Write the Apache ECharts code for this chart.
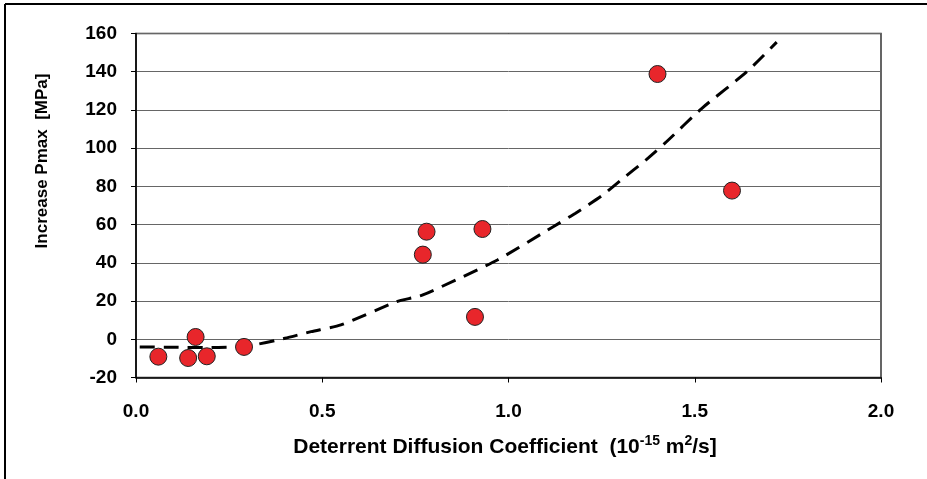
<!DOCTYPE html>
<html>
<head>
<meta charset="utf-8">
<script src="https://cdn.jsdelivr.net/npm/echarts@6/dist/echarts.min.js"></script>
<style>
html,body{margin:0;padding:0;background:#fff;}
#chart{width:927px;height:479px;}
</style>
</head>
<body>
<div id="chart"></div>
<script>
// Measured points: diffusion coefficient (1e-15 m2/s) vs increase Pmax (MPa)
const pointX = [0.06, 0.14, 0.16, 0.19, 0.29, 0.77, 0.78, 0.91, 0.93, 1.40, 1.60];
const pointY = [-9.1, -9.8, 1.2, -8.9, -4.0, 44.3, 56.3, 11.7, 57.7, 138.8, 77.8];
// Trend line (dashed)
const trendX = [0.01, 0.10, 0.20, 0.30, 0.40, 0.47, 0.55, 0.70, 0.77, 0.97, 1.12, 1.18, 1.25, 1.30, 1.37, 1.42, 1.52, 1.64, 1.72];
const trendY = [-4.0, -4.2, -4.3, -3.5, 0.5, 4.0, 7.5, 19.7, 23.2, 41.5, 58.9, 66.0, 75.0, 83.0, 94.0, 102.6, 121.0, 140.0, 155.5];
const yTitle = 'Increase Pmax  [MPa]';
const xTitleMain = 'Deterrent Diffusion Coefficient  (10';

const chart = echarts.init(document.getElementById('chart'), null, {renderer: 'canvas'});
const FONT = '"Liberation Sans", Arial, sans-serif';

chart.setOption({
  animation: false,
  backgroundColor: '#fff',
  grid: {left: 136, top: 33.5, right: 46, bottom: 101.5, show: true, borderColor: '#333', borderWidth: 1.5, backgroundColor: 'transparent'},
  xAxis: {
    type: 'value', min: 0, max: 2, interval: 0.5,
    axisLine: {show: true, onZero: false, lineStyle: {color: '#000', width: 1.5}},
    axisTick: {show: true, length: 5, inside: false, lineStyle: {color: '#000', width: 1}},
    axisLabel: {margin: 25, fontFamily: FONT, fontWeight: 'bold', fontSize: 19, color: '#000', formatter: v => v.toFixed(1)},
    splitLine: {show: false}
  },
  yAxis: {
    type: 'value', min: -20, max: 160, interval: 20,
    axisLine: {show: true, onZero: false, lineStyle: {color: '#000', width: 1.5}},
    axisTick: {show: true, length: 5, lineStyle: {color: '#000', width: 1}},
    axisLabel: {margin: 19, fontFamily: FONT, fontWeight: 'bold', fontSize: 19, color: '#000'},
    splitLine: {show: true, lineStyle: {color: '#666', width: 1}}
  },
  graphic: [
    {type: 'line', shape: {x1: 5, y1: 479, x2: 5, y2: 4}, style: {stroke: '#000', lineWidth: 2}, silent: true},
    {type: 'line', shape: {x1: 5, y1: 4, x2: 927, y2: 4}, style: {stroke: '#000', lineWidth: 2}, silent: true},
    {
      type: 'text', x: 42.5, y: 161, rotation: Math.PI / 2, silent: true,
      style: {text: yTitle, fontFamily: FONT, fontWeight: 'bold', fontSize: 17, fill: '#000', align: 'center', verticalAlign: 'middle'}
    },
    {
      type: 'text', x: 505, y: 447, silent: true,
      style: {
        text: xTitleMain + '{sup|-15}' + ' m' + '{sup|2}' + '/s]',
        fontFamily: FONT, fontWeight: 'bold', fontSize: 21, fill: '#000', align: 'center', verticalAlign: 'middle',
        rich: {sup: {fontFamily: FONT, fontWeight: 'bold', fontSize: 14, fill: '#000', verticalAlign: 'bottom', padding: [0,0,12,0]}}
      }
    }
  ],
  series: [
    {
      type: 'line', data: trendX.map((x, i) => [x, trendY[i]]),
      showSymbol: false, smooth: 0.2,
      lineStyle: {color: '#000', width: 3, type: [15, 9]},
      z: 2
    },
    {
      type: 'scatter', data: pointX.map((x, i) => [x, pointY[i]]),
      symbol: 'circle', symbolSize: 17,
      itemStyle: {color: '#E8262B', borderColor: '#222', borderWidth: 1, opacity: 1},
      z: 3
    }
  ]
});
</script>
</body>
</html>
